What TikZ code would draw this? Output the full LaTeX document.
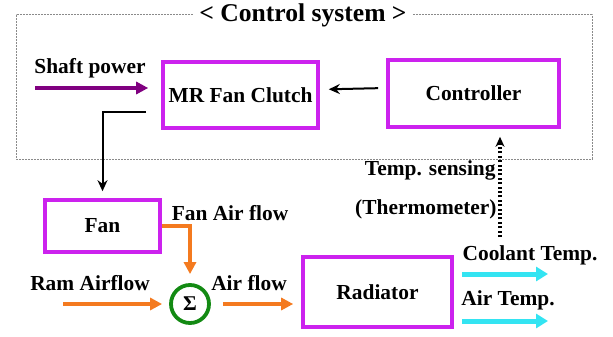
\documentclass[tikz,border=0pt]{standalone}
\usepackage{fontspec}
\setmainfont{Liberation Serif}[BoldFont={Liberation Serif Bold}]
\usepackage{tikz}
\usetikzlibrary{arrows.meta,positioning,calc}
\definecolor{boxc}{HTML}{CC22EE}
\definecolor{shaftc}{HTML}{800080}
\definecolor{airc}{HTML}{F47A1F}
\definecolor{sumc}{HTML}{138A13}
\definecolor{outc}{HTML}{33E4F2}
\definecolor{framec}{HTML}{8A8A8A}

\begin{document}
\begin{tikzpicture}[x=0.5pt,y=-0.5pt,
  blk/.style={draw=boxc,line width=1.8pt,fill=white,font=\rmfamily\bfseries\fontsize{10.7}{12}\selectfont,inner sep=0pt},
  lab/.style={font=\rmfamily\bfseries\fontsize{10.7}{12}\selectfont,inner sep=0pt},
  flow/.style={draw=airc,line width=2pt,-{Triangle[length=6pt,width=6pt]}},
  sig/.style={draw=black,line width=1pt,-{Stealth[length=5.5pt,width=5pt]}},
  outflow/.style={draw=outc,line width=2.5pt,-{Triangle[length=6pt,width=7pt]}}]
\useasboundingbox (0,0) rectangle (613,336);
\draw[framec,line width=0.5pt,dash pattern=on 0.8pt off 0.7pt] (16,15) rectangle (592,159);
\node[lab,fill=white,inner xsep=3pt,font=\rmfamily\bfseries\fontsize{12.8}{14}\selectfont] (title) at (303,15) {< Control system >};
\node[blk,minimum width=77.5pt,minimum height=33pt] (clutch) at (240.5,95) {MR Fan Clutch};
\node[blk,minimum width=85.5pt,minimum height=33.5pt] (ctrl) at (473.5,93.5) {Controller};
\node[blk,minimum width=57.5pt,minimum height=26pt] (fan) at (102.5,226) {Fan};
\node[blk,minimum width=74.5pt,minimum height=35pt] (rad) at (377.5,292) {Radiator};
\node[circle,draw=sumc,line width=1.9pt,minimum size=19pt,inner sep=0pt,font=\rmfamily\bfseries\fontsize{10.5}{11}\selectfont] (sum) at (190,304) {Σ};
\node[lab] (shaftlbl) at (90,68) {Shaft power};
\node[lab] (fanflow) at (230,213) {Fan Air flow};
\node[lab] (ramlbl) at (90,283) {Ram Airflow};
\node[lab] (airlbl) at (249,283) {Air flow};
\node[lab,anchor=east] (sensing) at (496,170) {Temp. sensing};
\node[lab,anchor=east] (thermo) at (497,209) {(Thermometer)};
\node[lab] (coolant) at (530,255) {Coolant Temp.};
\node[lab] (airtemp) at (508,300) {Air Temp.};
\coordinate (shaftin) at (35,88);
\coordinate (ramin) at (63,304);
\coordinate (sense) at (500,237);
\coordinate (coolout) at (548,274);
\coordinate (airout) at (548,321);
\draw[shaftc,line width=2pt,-{Triangle[length=6pt,width=6pt]},shorten >=6.5pt] (shaftin) -- (shaftin -| clutch.west);
\draw[sig,shorten <=4pt,shorten >=4.5pt] ([yshift=2.75pt]ctrl.west) -- ([yshift=2.75pt]clutch.east);
\draw[sig,shorten >=3.5pt] ([xshift=-7.5pt,yshift=-8.5pt]clutch.west) -| (fan.north);
\draw[flow,shorten >=4.5pt] (fan.east) -| (sum.north);
\draw[flow,shorten >=3.5pt] (ramin) -- (sum.west);
\draw[flow,shorten <=6pt,shorten >=4pt] (sum.east) -- (sum.east -| rad.west);
\draw[outflow,shorten <=4pt] ([yshift=9pt]rad.east) -- (coolout);
\draw[outflow,shorten <=4pt] ([yshift=-14.5pt]rad.east) -- (airout);
\draw[line width=1.6pt,dash pattern=on 1pt off 1.2pt,-{Stealth[length=5pt,width=4.5pt]},shorten >=4pt] (sense) -- (sense |- ctrl.south);
\end{tikzpicture}
\end{document}
